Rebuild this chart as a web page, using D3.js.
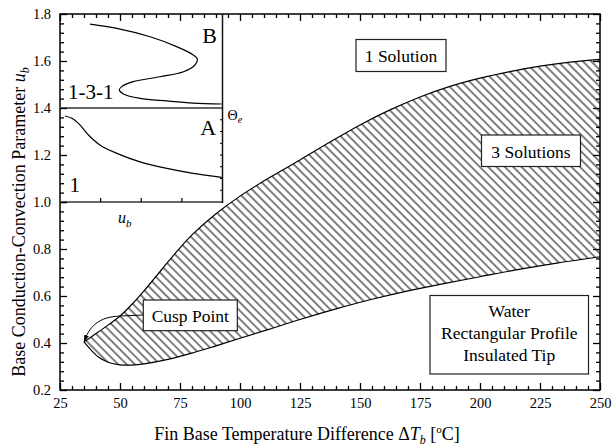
<!DOCTYPE html>
<html>
<head>
<meta charset="utf-8">
<script src="https://cdn.jsdelivr.net/npm/d3@7"></script>
<style>
  body { margin: 0; background: #fff; }
  svg { display: block; }
  text { font-family: "Liberation Serif", "Times New Roman", serif; fill: #000; }
</style>
</head>
<body>
<svg id="chart" width="612" height="448"></svg>
<script>
// ---- data -------------------------------------------------------------
const xTicks = [25, 50, 75, 100, 125, 150, 175, 200, 225, 250];
const yTicks = [0.2, 0.4, 0.6, 0.8, 1.0, 1.2, 1.4, 1.6, 1.8];

// upper limit of the three-solution region (ΔTb, ub), starting at the cusp
const upperBranch = [
  [35, 0.405], [40, 0.440], [45, 0.476], [50, 0.515], [55, 0.565], [60, 0.622],
  [65, 0.683], [70, 0.745], [75, 0.805], [80, 0.860], [90, 0.950], [100, 1.025],
  [112.5, 1.105], [125, 1.179], [137.5, 1.255], [150, 1.328], [162.5, 1.392],
  [175, 1.447], [187.5, 1.492], [200, 1.527], [212.5, 1.555], [225, 1.578],
  [237.5, 1.595], [250, 1.607]
];
// lower limit of the three-solution region, starting at the cusp
const lowerBranch = [
  [35, 0.405], [38, 0.370], [41, 0.340], [45, 0.318], [50, 0.307], [55, 0.306],
  [60, 0.311], [70, 0.330], [80, 0.357], [90, 0.388], [100, 0.420], [112, 0.458],
  [125, 0.500], [140, 0.545], [155, 0.586], [170, 0.622], [185, 0.653],
  [200, 0.682], [215, 0.711], [232, 0.740], [250, 0.767]
];
// pointer from the label to the cusp
const cuspPointer = [[50, 0.515], [44.4, 0.510], [39.6, 0.484], [36.6, 0.447], [35, 0.405]];

// inset: ub (horizontal) against fin temperature (vertical), Θe at 4
const insetXTicks = [1, 2, 3];
const insetRightTicks = [0.5, 1, 1.5, 2, 2.5, 3, 3.5];
const insetThetaE = 4;
const insetCurveA = [
  [0.12, 3.66], [0.29, 3.56], [0.49, 3.28], [0.70, 2.85], [0.98, 2.43],
  [1.40, 2.07], [1.97, 1.71], [2.63, 1.43], [3.28, 1.22], [3.98, 1.05]
];
const insetCurveB = [
  [0.74, 7.57], [1.40, 7.39], [2.22, 7.03], [2.87, 6.61], [3.28, 6.26],
  [3.38, 6.09], [3.32, 5.83], [3.04, 5.54], [2.46, 5.33], [1.80, 5.12],
  [1.52, 4.91], [1.46, 4.77], [1.56, 4.60], [1.97, 4.41], [2.63, 4.30],
  [3.28, 4.21], [3.98, 4.17]
];

// ---- layout -----------------------------------------------------------
const svg = d3.select("#chart");
const L = 60, R = 600, T = 14, B = 390;

const x = d3.scaleLinear().domain([25, 250]).range([L, R]);
const y = d3.scaleLinear().domain([0.2, 1.8]).range([B, T]);

const xMinor = d3.range(25, 250.01, 5).filter(v => v % 25 !== 0);
const yMinor = d3.range(0, 41).map(i => +(0.2 + i * 0.04).toFixed(2))
  .filter(v => v <= 1.8 && !yTicks.some(t => Math.abs(t - v) < 1e-6));

const defs = svg.append("defs");
const hatchGap = 5.9;
const hatch = defs.append("pattern")
  .attr("id", "hatch").attr("patternUnits", "userSpaceOnUse")
  .attr("width", hatchGap).attr("height", hatchGap)
  .attr("patternTransform", "rotate(-45)");
hatch.append("line")
  .attr("x1", hatchGap / 2).attr("y1", -1).attr("x2", hatchGap / 2).attr("y2", hatchGap + 1)
  .attr("stroke", "#000").attr("stroke-width", 1.0);

defs.append("marker")
  .attr("id", "arrow").attr("viewBox", "0 0 10 10")
  .attr("refX", 10).attr("refY", 5)
  .attr("markerWidth", 7).attr("markerHeight", 7)
  .attr("markerUnits", "userSpaceOnUse").attr("orient", "auto")
  .append("path").attr("d", "M0,1.5 L10,5 L0,8.5 Z").attr("fill", "#000");

defs.append("clipPath").attr("id", "plotClip")
  .append("rect").attr("x", L).attr("y", T).attr("width", R - L).attr("height", B - T);

// ---- three-solution region ----------------------------------------------
const line = d3.line().x(d => x(d[0])).y(d => y(d[1])).curve(d3.curveCatmullRom.alpha(0.5));
const regionPath = line(upperBranch) + line(lowerBranch.slice().reverse()).replace(/^M/, "L") + "Z";

const plot = svg.append("g").attr("clip-path", "url(#plotClip)");
plot.append("path").attr("d", regionPath).attr("fill", "url(#hatch)").attr("stroke", "none");
plot.append("path").attr("d", line(upperBranch)).attr("fill", "none").attr("stroke", "#000").attr("stroke-width", 1.2);
plot.append("path").attr("d", line(lowerBranch)).attr("fill", "none").attr("stroke", "#000").attr("stroke-width", 1.2);

// ---- axes (ticks pointing inward on all four sides) ----------------------
function axisGroup(axis, tx, ty) {
  const g = svg.append("g").attr("transform", `translate(${tx},${ty})`).call(axis);
  g.select(".domain").remove();
  g.selectAll(".tick line").attr("stroke", "#000").attr("stroke-width", 1.3);
  g.selectAll("text").style("font-family", "'Liberation Serif', serif").style("font-size", "14.5px").attr("fill", "#000");
  return g;
}
axisGroup(d3.axisBottom(x).tickValues(xTicks).tickSize(-7).tickPadding(8).tickFormat(d3.format("d")), 0, B);
axisGroup(d3.axisBottom(x).tickValues(xMinor).tickSize(-4).tickFormat(""), 0, B);
axisGroup(d3.axisTop(x).tickValues(xTicks).tickSize(-7).tickFormat(""), 0, T);
axisGroup(d3.axisTop(x).tickValues(xMinor).tickSize(-4).tickFormat(""), 0, T);
axisGroup(d3.axisLeft(y).tickValues(yTicks).tickSize(-7).tickPadding(9).tickFormat(d3.format(".1f")), L, 0);
axisGroup(d3.axisLeft(y).tickValues(yMinor).tickSize(-4).tickFormat(""), L, 0);
axisGroup(d3.axisRight(y).tickValues(yTicks).tickSize(-7).tickFormat(""), R, 0);
axisGroup(d3.axisRight(y).tickValues(yMinor).tickSize(-4).tickFormat(""), R, 0);

svg.append("rect").attr("x", L).attr("y", T).attr("width", R - L).attr("height", B - T)
  .attr("fill", "none").attr("stroke", "#000").attr("stroke-width", 1.5);

// ---- axis titles ----------------------------------------------------------
const xTitle = svg.append("text").attr("x", 307).attr("y", 440)
  .attr("text-anchor", "middle").style("font-size", "18px");
xTitle.append("tspan").text("Fin Base Temperature Difference \u0394");
xTitle.append("tspan").attr("font-style", "italic").text("T");
xTitle.append("tspan").attr("font-style", "italic").style("font-size", "12px").attr("dy", 4).text("b");
xTitle.append("tspan").attr("dy", -4).text(" [");
xTitle.append("tspan").style("font-size", "11px").attr("dy", -7).text("o");
xTitle.append("tspan").attr("dy", 7).text("C]");

const yTitle = svg.append("text").attr("transform", "translate(25,222) rotate(-90)")
  .attr("text-anchor", "middle").style("font-size", "18px");
yTitle.append("tspan").text("Base Conduction-Convection Parameter ");
yTitle.append("tspan").attr("font-style", "italic").text("u");
yTitle.append("tspan").attr("font-style", "italic").style("font-size", "12px").attr("dy", 4).text("b");

// ---- annotations -----------------------------------------------------------
function labelBox(x0, y0, w, h, lines, baseline0, step) {
  const g = svg.append("g");
  g.append("rect").attr("x", x0).attr("y", y0).attr("width", w).attr("height", h)
    .attr("fill", "#fff").attr("stroke", "#222").attr("stroke-width", 1.2);
  lines.forEach((s, i) => {
    g.append("text").attr("x", x0 + w / 2).attr("y", baseline0 + i * step)
      .attr("text-anchor", "middle").style("font-size", "17.5px").text(s);
  });
}

// cusp pointer and leader
svg.append("path").attr("d", d3.line().x(d => x(d[0])).y(d => y(d[1])).curve(d3.curveBasis)(cuspPointer))
  .attr("fill", "none").attr("stroke", "#000").attr("stroke-width", 1).attr("marker-end", "url(#arrow)");
svg.append("line").attr("x1", x(cuspPointer[0][0])).attr("y1", y(cuspPointer[0][1]))
  .attr("x2", 143.3).attr("y2", 315).attr("stroke", "#000").attr("stroke-width", 1);

labelBox(356, 39.5, 90, 32, ["1 Solution"], 62, 0);
labelBox(481.5, 135, 99, 31.5, ["3 Solutions"], 158, 0);
labelBox(143.3, 300, 94, 30.7, ["Cusp Point"], 321.5, 0);
labelBox(430, 295.5, 158.5, 78.5, ["Water", "Rectangular Profile", "Insulated Tip"], 317, 22);

// ---- inset ------------------------------------------------------------------
const insetRight = 222.5;
const ix = d3.scaleLinear().domain([0, 4]).range([L, insetRight]);
const iy = d3.scaleLinear().domain([0, 8]).range([y(1.0), y(1.8)]);
const inset = svg.append("g");

inset.append("rect").attr("x", L + 1).attr("y", T + 1).attr("width", insetRight - L - 1).attr("height", iy(0) - T - 1)
  .attr("fill", "#fff");
// re-draw the main frame ticks that fall inside the inset
axisGroup(d3.axisTop(x).tickValues(xTicks.filter(v => x(v) < insetRight)).tickSize(-7).tickFormat(""), 0, T);
axisGroup(d3.axisTop(x).tickValues(xMinor.filter(v => x(v) < insetRight)).tickSize(-4).tickFormat(""), 0, T);
axisGroup(d3.axisLeft(y).tickValues(yTicks.filter(v => v >= 1.0)).tickSize(-7).tickFormat(""), L, 0);
axisGroup(d3.axisLeft(y).tickValues(yMinor.filter(v => v >= 1.0)).tickSize(-4).tickFormat(""), L, 0);

inset.append("line").attr("x1", L).attr("x2", insetRight).attr("y1", iy(insetThetaE)).attr("y2", iy(insetThetaE))
  .attr("stroke", "#666").attr("stroke-width", 2.2);
inset.append("line").attr("x1", L).attr("x2", insetRight).attr("y1", iy(0)).attr("y2", iy(0))
  .attr("stroke", "#666").attr("stroke-width", 2.2);
inset.append("line").attr("x1", insetRight).attr("x2", insetRight).attr("y1", T).attr("y2", iy(0) + 1)
  .attr("stroke", "#111").attr("stroke-width", 1.5);

inset.selectAll(".ixt").data(insetXTicks).join("line")
  .attr("x1", d => ix(d)).attr("x2", d => ix(d)).attr("y1", iy(0)).attr("y2", iy(0) - 4)
  .attr("stroke", "#000").attr("stroke-width", 1.2);
inset.selectAll(".iyt").data(insetRightTicks).join("line")
  .attr("x1", insetRight).attr("x2", insetRight - 2.5).attr("y1", d => iy(d)).attr("y2", d => iy(d))
  .attr("stroke", "#000").attr("stroke-width", 1);

const iline = d3.line().x(d => ix(d[0])).y(d => iy(d[1])).curve(d3.curveCatmullRom.alpha(0.5));
inset.append("path").attr("d", iline(insetCurveA)).attr("fill", "none").attr("stroke", "#000").attr("stroke-width", 1.2);
inset.append("path").attr("d", iline(insetCurveB)).attr("fill", "none").attr("stroke", "#000").attr("stroke-width", 1.2);

inset.append("text").attr("x", 209.5).attr("y", 42.7).attr("text-anchor", "middle").style("font-size", "22px").text("B");
inset.append("text").attr("x", 208.3).attr("y", 135).attr("text-anchor", "middle").style("font-size", "22px").text("A");
inset.append("text").attr("x", 68).attr("y", 99.3).style("font-size", "21px").text("1-3-1");
inset.append("text").attr("x", 69.5).attr("y", 191.7).style("font-size", "21px").text("1");

const theta = inset.append("text").attr("x", 227.5).attr("y", 120).style("font-size", "14px");
theta.append("tspan").text("\u0398");
theta.append("tspan").attr("font-style", "italic").style("font-size", "10px").attr("dy", 3).text("e");

const ub = inset.append("text").attr("x", 118).attr("y", 222.5).style("font-size", "16px");
ub.append("tspan").attr("font-style", "italic").text("u");
ub.append("tspan").attr("font-style", "italic").style("font-size", "11px").attr("dy", 4).text("b");
</script>
</body>
</html>
